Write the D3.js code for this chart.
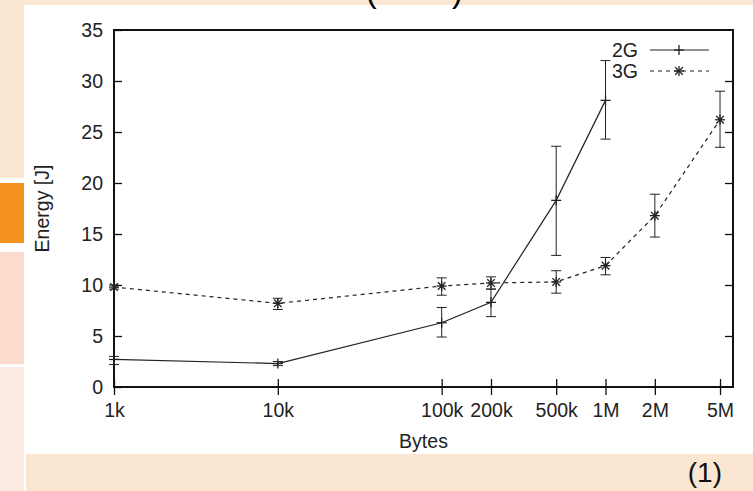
<!DOCTYPE html>
<html>
<head>
<meta charset="utf-8">
<script src="https://cdnjs.cloudflare.com/ajax/libs/d3/7.8.5/d3.min.js"></script>
<style>
  body { margin: 0; background: #ffffff; }
  svg { display: block; font-family: "Liberation Sans", Arial, sans-serif; }
</style>
</head>
<body>
<svg id="chart" width="753" height="491"></svg>
<script>
var tickBytes = [1e3, 1e4, 1e5, 2e5, 5e5, 1e6, 2e6, 5e6];
var tickLabels = ["1k", "10k", "100k", "200k", "500k", "1M", "2M", "5M"];
var energyTicks = [0, 5, 10, 15, 20, 25, 30, 35];

var bytes2G = [1e3, 1e4, 1e5, 2e5, 5e5, 1e6];
var energy2G = [2.7, 2.3, 6.3, 8.3, 18.3, 28.1];
var low2G = [2.2, 2.1, 4.9, 6.9, 12.9, 24.3];
var high2G = [3.0, 2.5, 7.8, 9.6, 23.6, 32.0];

var bytes3G = [1e3, 1e4, 1e5, 2e5, 5e5, 1e6, 2e6, 5e6];
var energy3G = [9.8, 8.2, 9.9, 10.2, 10.3, 11.9, 16.8, 26.2];
var low3G = [9.6, 7.6, 9.0, 9.6, 9.2, 11.0, 14.7, 23.5];
var high3G = [10.0, 8.7, 10.7, 10.8, 11.4, 12.7, 18.9, 29.0];

var svg = d3.select("#chart");
var fs = 19.5;

// slide background pieces
var beige = "#fbe7d1";
svg.append("rect").attr("x", 0).attr("y", 0).attr("width", 753).attr("height", 5).attr("fill", beige);
svg.append("rect").attr("x", 0).attr("y", 0).attr("width", 24).attr("height", 178).attr("fill", beige);
svg.append("rect").attr("x", 0).attr("y", 183).attr("width", 24).attr("height", 60).attr("fill", "#f6921e");
svg.append("rect").attr("x", 0).attr("y", 252).attr("width", 24).attr("height", 112).attr("fill", "#fadbcc");
svg.append("rect").attr("x", 0).attr("y", 367).attr("width", 24).attr("height", 124).attr("fill", "#fcebe3");
svg.append("rect").attr("x", 26).attr("y", 454).attr("width", 727).attr("height", 37).attr("fill", beige);

// cut off heading above the panel
svg.append("text").attr("x", 366).attr("y", 2).attr("font-size", 32).attr("fill", "#000").text("(");
svg.append("text").attr("x", 452).attr("y", 2).attr("font-size", 32).attr("fill", "#000").text(")");

svg.append("text").attr("x", 722).attr("y", 482).attr("text-anchor", "end")
    .attr("font-size", 28).attr("fill", "#111").text("(1)");

// plot area
var mLeft = 114, mRight = 733, mTop = 30, mBottom = 387;
var x = d3.scaleLog().domain([1000, 6e6]).range([mLeft, mRight]);
var y = d3.scaleLinear().domain([0, 35]).range([mBottom, mTop]);

svg.append("g").attr("transform", "translate(" + mLeft + ",0)")
    .call(d3.axisLeft(y).tickValues(energyTicks).tickSize(-8).tickPadding(11));
svg.append("g").attr("transform", "translate(" + mRight + ",0)")
    .call(d3.axisRight(y).tickValues(energyTicks.slice(1, 7)).tickSize(-8).tickFormat(""));

var xAxis = svg.append("g").attr("transform", "translate(0," + mBottom + ")")
    .call(d3.axisBottom(x).tickValues(tickBytes).tickSize(8).tickPadding(8)
        .tickFormat(function(d, i) { return tickLabels[i]; }));
xAxis.selectAll(".tick line").attr("y1", -8);

svg.selectAll(".domain").remove();
svg.selectAll(".tick line").attr("stroke", "#111").attr("stroke-width", 1.3);
svg.selectAll(".tick text").attr("font-size", fs).attr("fill", "#222")
    .attr("font-family", "Liberation Sans, Arial, sans-serif");

// frame
svg.append("rect").attr("x", mLeft).attr("y", mTop)
    .attr("width", mRight - mLeft).attr("height", mBottom - mTop)
    .attr("fill", "none").attr("stroke", "#111").attr("stroke-width", 2);

// axis titles
svg.append("text").attr("x", (mLeft + mRight) / 2).attr("y", 448)
    .attr("text-anchor", "middle").attr("font-size", fs).attr("fill", "#222").text("Bytes");
svg.append("text").attr("transform", "translate(49," + ((mTop + mBottom) / 2) + ") rotate(-90)")
    .attr("text-anchor", "middle").attr("font-size", fs).attr("fill", "#222").text("Energy [J]");

var ink = "#222";

function drawSeries(xs, ys, lo, hi, dash, star) {
    var g = svg.append("g");
    var line = d3.line().x(function(d, i) { return x(xs[i]); }).y(function(d) { return y(d); });
    g.append("path").attr("d", line(ys)).attr("fill", "none")
        .attr("stroke", ink).attr("stroke-width", 1.2)
        .attr("stroke-dasharray", dash ? "4,4" : null);
    // error bars
    ys.forEach(function(v, i) {
        var cx = x(xs[i]);
        g.append("line").attr("x1", cx).attr("x2", cx).attr("y1", y(lo[i])).attr("y2", y(hi[i]))
            .attr("stroke", ink).attr("stroke-width", 1);
        [lo[i], hi[i]].forEach(function(e) {
            g.append("line").attr("x1", cx - 5).attr("x2", cx + 5).attr("y1", y(e)).attr("y2", y(e))
                .attr("stroke", ink).attr("stroke-width", 1);
        });
        drawMarker(g, cx, y(v), star);
    });
}

function drawMarker(g, cx, cy, star) {
    var r = 5;
    g.append("line").attr("x1", cx - r).attr("x2", cx + r).attr("y1", cy).attr("y2", cy)
        .attr("stroke", ink).attr("stroke-width", 1.3);
    g.append("line").attr("x1", cx).attr("x2", cx).attr("y1", cy - r).attr("y2", cy + r)
        .attr("stroke", ink).attr("stroke-width", 1.3);
    if (star) {
        var d = 3.8;
        g.append("line").attr("x1", cx - d).attr("x2", cx + d).attr("y1", cy - d).attr("y2", cy + d)
            .attr("stroke", ink).attr("stroke-width", 1.3);
        g.append("line").attr("x1", cx - d).attr("x2", cx + d).attr("y1", cy + d).attr("y2", cy - d)
            .attr("stroke", ink).attr("stroke-width", 1.3);
    }
}

drawSeries(bytes2G, energy2G, low2G, high2G, false, false);
drawSeries(bytes3G, energy3G, low3G, high3G, true, true);

// legend
var legend = [{ name: "2G", dash: false, star: false, ly: 50 }, { name: "3G", dash: true, star: true, ly: 71 }];
legend.forEach(function(l) {
    svg.append("text").attr("x", 638).attr("y", l.ly + 7).attr("text-anchor", "end")
        .attr("font-size", fs).attr("fill", "#222").text(l.name);
    svg.append("line").attr("x1", 650).attr("x2", 709).attr("y1", l.ly).attr("y2", l.ly)
        .attr("stroke", ink).attr("stroke-width", 1.2).attr("stroke-dasharray", l.dash ? "4,4" : null);
    drawMarker(svg, 679, l.ly, l.star);
});
</script>
</body>
</html>
